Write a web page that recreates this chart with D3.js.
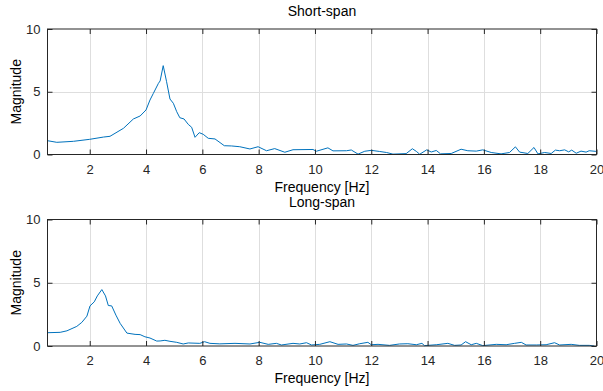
<!DOCTYPE html>
<html>
<head>
<meta charset="utf-8">
<script src="https://cdn.jsdelivr.net/npm/d3@7"></script>
<style>
  html, body { margin: 0; padding: 0; background: #fff; }
  svg { display: block; font-family: "Liberation Sans", Arial, Helvetica, sans-serif; }
</style>
</head>
<body>
<svg id="chart" width="603" height="391"></svg>
<script>
// ---- Data ----
const xTicks = [2, 4, 6, 8, 10, 12, 14, 16, 18, 20];
const yTicks = [0, 5, 10];
const titles = ["Short-span", "Long-span"];
const xLabel = "Frequency [Hz]";
const yLabel = "Magnitude";

const shortFreq = [0.5, 0.83, 1.42, 2.0, 2.49, 2.72, 3.2, 3.55, 3.79, 4.0, 4.14, 4.26, 4.44, 4.5, 4.61, 4.73, 4.85, 4.97, 5.09, 5.2, 5.35, 5.5, 5.62, 5.74, 5.89, 6.03, 6.21, 6.45, 6.78, 7.04, 7.33, 7.69, 7.98, 8.28, 8.57, 8.93, 9.22, 9.93, 10.05, 10.46, 10.64, 11.12, 11.29, 11.53, 11.77, 12.0, 12.3, 12.54, 12.77, 13.24, 13.46, 13.6, 13.72, 13.97, 14.13, 14.31, 14.46, 14.84, 15.19, 15.43, 15.73, 15.96, 16.26, 16.61, 16.91, 17.12, 17.27, 17.56, 17.78, 17.92, 18.16, 18.39, 18.54, 18.69, 18.87, 19.01, 19.12, 19.28, 19.45, 19.63, 19.74, 19.98];
const shortMag  = [1.10, 0.97, 1.05, 1.21, 1.39, 1.45, 2.09, 2.83, 3.07, 3.55, 4.34, 4.87, 5.67, 5.86, 7.08, 5.80, 4.42, 4.08, 3.41, 2.93, 2.83, 2.40, 2.17, 1.37, 1.74, 1.61, 1.29, 1.24, 0.70, 0.68, 0.62, 0.44, 0.62, 0.30, 0.47, 0.18, 0.38, 0.40, 0.26, 0.53, 0.29, 0.30, 0.36, 0.03, 0.26, 0.33, 0.24, 0.16, 0.03, 0.07, 0.46, 0.25, 0.02, 0.37, 0.20, 0.32, 0.05, 0.08, 0.42, 0.30, 0.27, 0.37, 0.16, 0.05, 0.16, 0.61, 0.19, 0.08, 0.56, 0.05, 0.16, 0.08, 0.35, 0.30, 0.37, 0.21, 0.35, 0.10, 0.27, 0.19, 0.30, 0.25];

const longFreq = [0.5, 0.95, 1.19, 1.54, 1.72, 1.9, 2.01, 2.16, 2.27, 2.43, 2.56, 2.66, 2.78, 2.93, 3.08, 3.32, 3.61, 3.79, 3.96, 4.14, 4.38, 4.5, 4.67, 4.85, 5.09, 5.32, 5.5, 5.91, 6.08, 6.27, 6.62, 7.16, 7.69, 8.04, 8.34, 8.63, 8.81, 9.22, 9.46, 9.7, 9.88, 10.17, 10.53, 10.82, 11.12, 11.35, 11.59, 11.88, 12.0, 12.24, 12.65, 13.0, 13.3, 13.6, 13.8, 13.89, 14.31, 14.72, 14.96, 15.19, 15.35, 15.55, 15.73, 15.96, 16.44, 16.79, 17.09, 17.33, 17.5, 17.86, 18.21, 18.51, 18.69, 19.1, 19.39, 19.74, 19.92];
const longMag  = [1.05, 1.08, 1.20, 1.55, 1.87, 2.36, 3.17, 3.49, 3.96, 4.46, 3.96, 3.20, 3.17, 2.44, 1.79, 1.02, 0.92, 0.90, 0.73, 0.63, 0.39, 0.40, 0.45, 0.37, 0.29, 0.16, 0.24, 0.21, 0.34, 0.21, 0.17, 0.21, 0.16, 0.29, 0.13, 0.21, 0.08, 0.21, 0.16, 0.26, 0.08, 0.13, 0.34, 0.13, 0.16, 0.05, 0.18, 0.29, 0.10, 0.13, 0.05, 0.16, 0.18, 0.10, 0.21, 0.03, 0.10, 0.21, 0.05, 0.08, 0.34, 0.10, 0.21, 0.03, 0.13, 0.10, 0.21, 0.29, 0.08, 0.08, 0.10, 0.26, 0.08, 0.13, 0.05, 0.05, 0.00];

const series = [
  { freq: shortFreq, mag: shortMag },
  { freq: longFreq, mag: longMag }
];

// ---- Layout ----
const svg = d3.select("#chart");
const left = 47.5, right = 596.5;
const panels = [
  { top: 29, bottom: 154.5 },
  { top: 219.5, bottom: 346 }
];
const axisColor = "#262626";
const gridColor = "#dedede";
const lineColor = "#0072BD";
const tickLen = 5;

const x = d3.scaleLinear().domain([0.5, 20]).range([left, right]);

panels.forEach((p, i) => {
  const y = d3.scaleLinear().domain([0, 10]).range([p.bottom, p.top]);
  const g = svg.append("g");

  // grid
  g.append("g").selectAll("line").data(xTicks.filter(t => t < 20)).join("line")
    .attr("x1", d => Math.round(x(d)) + 0.5).attr("x2", d => Math.round(x(d)) + 0.5)
    .attr("y1", p.top).attr("y2", p.bottom)
    .attr("stroke", gridColor).attr("stroke-width", 1);
  g.append("g").selectAll("line").data(yTicks.filter(t => t > 0 && t < 10)).join("line")
    .attr("y1", d => Math.round(y(d)) + 0.5).attr("y2", d => Math.round(y(d)) + 0.5)
    .attr("x1", left).attr("x2", right)
    .attr("stroke", gridColor).attr("stroke-width", 1);

  // data line
  const s = series[i];
  const pts = s.freq.map((f, k) => [f, s.mag[k]]);
  g.append("path")
    .datum(pts)
    .attr("fill", "none")
    .attr("stroke", lineColor)
    .attr("stroke-width", 1)
    .attr("stroke-linejoin", "round")
    .attr("d", d3.line().x(d => x(d[0])).y(d => y(d[1])));

  // axes (bottom/left with labels, top/right ticks only), ticks inward
  const xAxis = d3.axisBottom(x).tickValues(xTicks).tickSizeInner(-tickLen).tickSizeOuter(0).tickPadding(10);
  const gx = g.append("g").attr("transform", `translate(0,${p.bottom})`).call(xAxis);
  const gxt = g.append("g").attr("transform", `translate(0,${p.top})`)
    .call(d3.axisTop(x).tickValues(xTicks).tickSizeInner(-tickLen).tickSizeOuter(0).tickFormat(""));
  const yAxis = d3.axisLeft(y).tickValues(yTicks).tickSizeInner(-tickLen).tickSizeOuter(0).tickPadding(7);
  const gy = g.append("g").attr("transform", `translate(${left},0)`).call(yAxis);
  const gyr = g.append("g").attr("transform", `translate(${right},0)`)
    .call(d3.axisRight(y).tickValues(yTicks).tickSizeInner(-tickLen).tickSizeOuter(0).tickFormat(""));

  [gx, gxt, gy, gyr].forEach(a => {
    a.select(".domain").remove();
    a.selectAll("line").attr("stroke", axisColor);
    a.selectAll("text").attr("fill", axisColor).attr("font-size", 13)
      .attr("font-family", "Liberation Sans, Arial, sans-serif");
  });

  // box
  g.append("rect")
    .attr("x", left).attr("y", p.top)
    .attr("width", right - left).attr("height", p.bottom - p.top)
    .attr("fill", "none").attr("stroke", axisColor).attr("stroke-width", 1);

  // title
  g.append("text")
    .attr("x", (left + right) / 2).attr("y", p.top - 13)
    .attr("text-anchor", "middle").attr("font-size", 14).attr("fill", "#000")
    .text(titles[i]);

  // x label
  g.append("text")
    .attr("x", (left + right) / 2).attr("y", p.bottom + 37)
    .attr("text-anchor", "middle").attr("font-size", 14).attr("fill", "#000")
    .text(xLabel);

  // y label
  g.append("text")
    .attr("transform", `translate(21,${(p.top + p.bottom) / 2}) rotate(-90)`)
    .attr("text-anchor", "middle").attr("font-size", 14).attr("fill", "#000")
    .text(yLabel);
});
</script>
</body>
</html>
